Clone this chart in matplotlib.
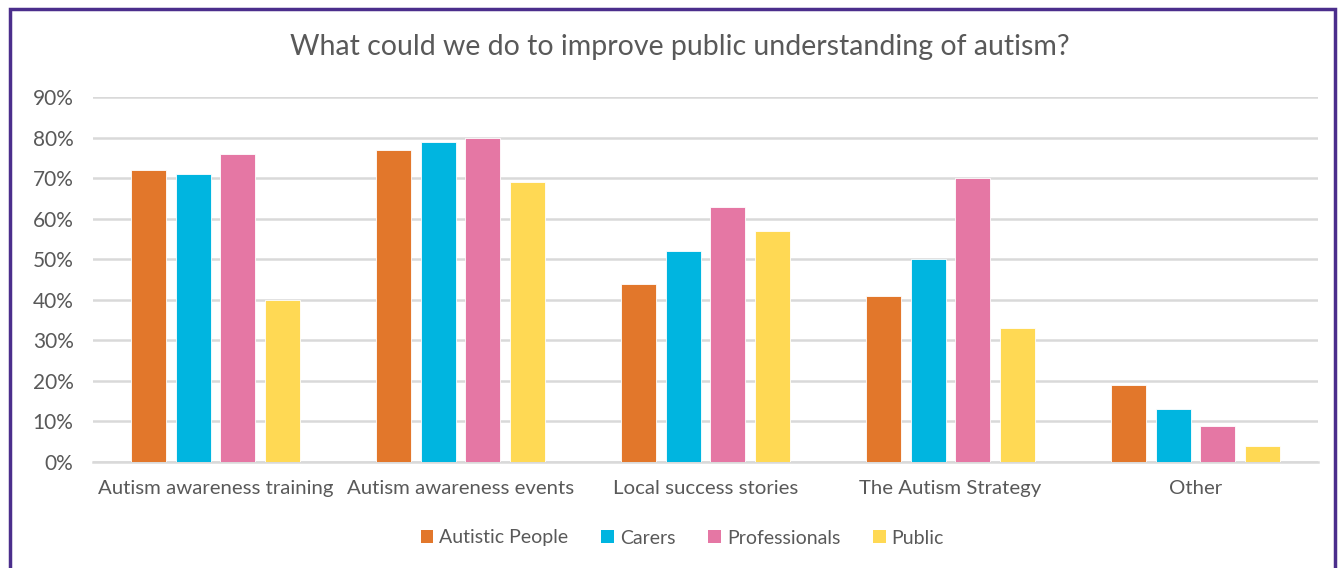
import matplotlib
matplotlib.use("Agg")
import matplotlib.pyplot as plt
import numpy as np
from matplotlib.patches import Rectangle, Patch

categories = ["Autism awareness training", "Autism awareness events",
              "Local success stories", "The Autism Strategy", "Other"]
series_names = ["Autistic People", "Carers", "Professionals", "Public"]
autistic_people = [72, 77, 44, 41, 19]
carers = [71, 79, 52, 50, 13]
professionals = [76, 80, 63, 70, 9]
public = [40, 69, 57, 33, 4]
yticks = [0, 10, 20, 30, 40, 50, 60, 70, 80, 90]
ytick_labels = ["0%", "10%", "20%", "30%", "40%", "50%", "60%", "70%", "80%", "90%"]

colors = ["#E2772B", "#00B5E0", "#E577A4", "#FFD954"]
text_color = "#595959"
plt.rcParams['font.family'] = ['Lato', 'DejaVu Sans']

fig = plt.figure(figsize=(13.38, 5.68), dpi=100)
ax = fig.add_axes([93/1338, 1-462/568, (1318-93)/1338, (462-97)/568])

x = np.arange(len(categories))
step = 0.1816
width = 0.143
all_series = [autistic_people, carers, professionals, public]
for i, (vals, c) in enumerate(zip(all_series, colors)):
    ax.bar(x + (i-1.5)*step, vals, width=width, color=c, edgecolor="white",
           linewidth=0.6, zorder=3, label=series_names[i])

ax.set_xlim(-0.5, len(categories)-0.5)
ax.set_ylim(0, 90)
ax.set_yticks(yticks)
ax.set_yticklabels(ytick_labels)
ax.set_xticks(x)
ax.set_xticklabels(categories)
ax.yaxis.grid(True, color="#D9D9D9", linewidth=1.8, zorder=0)
ax.set_axisbelow(True)
for s in ax.spines.values():
    s.set_visible(False)
ax.tick_params(axis='both', length=0, colors=text_color)
ax.tick_params(axis='y', pad=14, labelsize=15)
ax.tick_params(axis='x', pad=13, labelsize=14.7)
ax.axhline(0, color="#D9D9D9", linewidth=1.8, zorder=1, clip_on=False)

fig.text(0.508, 1-47/568, "What could we do to improve public understanding of autism?",
         ha="center", va="center", fontsize=20.5, color=text_color)

handles = [Patch(facecolor=c, edgecolor="none") for c in colors]
fig.legend(handles, series_names, loc="center", bbox_to_anchor=(0.51, 1-538/568),
           ncol=4, frameon=False, fontsize=14, labelcolor=text_color,
           handlelength=0.65, handleheight=0.65, handletextpad=0.3, columnspacing=1.7)

fig.patches.append(Rectangle((10/1338, -0.05), (1335-10)/1338, 1.05 - 9/568,
                             transform=fig.transFigure, fill=False,
                             edgecolor="#4B2E8C", linewidth=2.5))

fig.savefig("out.png", dpi=100, facecolor="white")
